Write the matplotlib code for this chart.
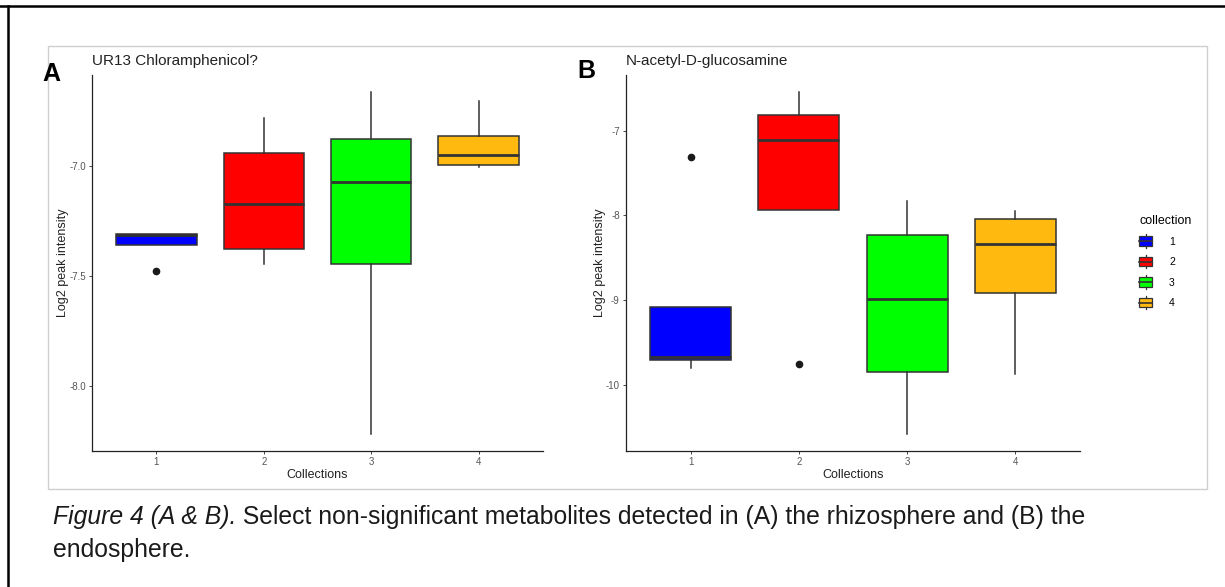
import matplotlib
matplotlib.use('Agg')
import matplotlib.pyplot as plt
from matplotlib.patches import Rectangle, Patch
from matplotlib.lines import Line2D
from matplotlib.legend_handler import HandlerBase

plt.rcParams['font.family'] = ['Liberation Sans', 'DejaVu Sans']
plt.rcParams['axes.unicode_minus'] = False

collections = [1, 2, 3, 4]
fill_colors = ['#0000FF', '#FF0000', '#00FF00', '#FFB90F']

# panel A: UR13 Chloramphenicol? (rhizosphere)
a_whislo = [-7.359, -7.448, -8.218, -7.006]
a_q1 = [-7.359, -7.379, -7.447, -6.995]
a_med = [-7.313, -7.174, -7.073, -6.953]
a_q3 = [-7.309, -6.942, -6.880, -6.865]
a_whishi = [-7.309, -6.785, -6.664, -6.706]
a_fliers = [[-7.477], [], [], []]

# panel B: N-acetyl-D-glucosamine (endosphere)
b_whislo = [-9.796, -7.936, -10.574, -9.875]
b_q1 = [-9.706, -7.936, -9.843, -8.919]
b_med = [-9.674, -7.114, -8.986, -8.341]
b_q3 = [-9.084, -6.811, -8.235, -8.046]
b_whishi = [-9.084, -6.540, -7.830, -7.944]
b_fliers = [[-7.311], [-9.757], [], []]

EDGE = '#333333'


class BoxKeyHandler(HandlerBase):
    # small ggplot-style boxplot glyph for the legend keys
    def create_artists(self, legend, orig_handle, xdescent, ydescent,
                       width, height, fontsize, trans):
        x0, y0 = -xdescent, -ydescent
        cx = x0 + width / 2
        rect = Rectangle((x0, y0 + height * 0.15), width, height * 0.7,
                         facecolor=orig_handle.get_facecolor(), edgecolor=EDGE,
                         lw=0.9, transform=trans)
        med = Line2D([x0, x0 + width], [y0 + height / 2] * 2, color=EDGE, lw=1.2, transform=trans)
        top = Line2D([cx, cx], [y0 + height * 0.85, y0 + height], color=EDGE, lw=0.9, transform=trans)
        bot = Line2D([cx, cx], [y0, y0 + height * 0.15], color=EDGE, lw=0.9, transform=trans)
        return [rect, med, top, bot]


def draw_panel(ax, whislo, q1, med, q3, whishi, fliers, title, ylim, yticks, fmt):
    stats = []
    for i, c in enumerate(collections):
        stats.append(dict(label=str(c), whislo=whislo[i], q1=q1[i], med=med[i],
                          q3=q3[i], whishi=whishi[i], fliers=fliers[i]))
    bp = ax.bxp(stats, positions=collections, widths=0.75, patch_artist=True,
                showcaps=False,
                boxprops=dict(edgecolor=EDGE, linewidth=1.1),
                whiskerprops=dict(color=EDGE, linewidth=1.1),
                medianprops=dict(color=EDGE, linewidth=2.0),
                flierprops=dict(marker='o', markerfacecolor='#1a1a1a',
                                markeredgecolor='#1a1a1a', markersize=4.5))
    for patch, col in zip(bp['boxes'], fill_colors):
        patch.set_facecolor(col)

    ax.set_xlim(0.4, 4.6)
    ax.set_ylim(*ylim)
    ax.set_yticks(yticks)
    ax.set_yticklabels([fmt.format(v) for v in yticks])
    ax.set_xticks(collections)
    ax.set_xticklabels([str(c) for c in collections])
    for s in ['top', 'right']:
        ax.spines[s].set_visible(False)
    for s in ['left', 'bottom']:
        ax.spines[s].set_color('#222222')
        ax.spines[s].set_linewidth(0.9)
    ax.tick_params(length=2.5, width=0.7, color='#444444', labelcolor='#555555',
                   labelsize=7, pad=2)
    ax.set_xlabel('Collections', fontsize=9, color='#222222', labelpad=1)
    ax.set_ylabel('Log2 peak intensity', fontsize=9, color='#222222', labelpad=0)
    ax.set_title(title, loc='left', fontsize=11, color='#222222', pad=7)


fig = plt.figure(figsize=(12.25, 5.87), dpi=100)
W, H = 1225, 587


def fx(px):
    return px / W


def fy(py):
    return 1 - py / H


# page border and image frame
fig.add_artist(Line2D([0, 1], [fy(6), fy(6)], color='black', lw=1.8, transform=fig.transFigure))
fig.add_artist(Line2D([fx(8), fx(8)], [0, fy(6)], color='black', lw=1.8, transform=fig.transFigure))
fig.add_artist(Rectangle((fx(48), fy(489)), fx(1207) - fx(48), fy(46) - fy(489),
                         fill=False, edgecolor='#cfcfcf', lw=1.0, transform=fig.transFigure))

ax_a = fig.add_axes([fx(92), fy(451), fx(543) - fx(92), fy(75) - fy(451)])
ax_b = fig.add_axes([fx(626), fy(451), fx(1080) - fx(626), fy(75) - fy(451)])

draw_panel(ax_a, a_whislo, a_q1, a_med, a_q3, a_whishi, a_fliers,
           'UR13 Chloramphenicol?', (-8.294, -6.589), [-8.0, -7.5, -7.0], '{:.1f}')
draw_panel(ax_b, b_whislo, b_q1, b_med, b_q3, b_whishi, b_fliers,
           'N-acetyl-D-glucosamine', (-10.779, -6.343), [-10, -9, -8, -7], '{:.0f}')

fig.text(fx(51), fy(74), 'A', fontsize=18, fontweight='bold', ha='center', va='center')
fig.text(fx(586), fy(71), 'B', fontsize=18, fontweight='bold', ha='center', va='center')

handles = [Patch(facecolor=c, edgecolor=EDGE) for c in fill_colors]
fig.legend(handles, [str(c) for c in collections], title='collection',
           loc='upper left', bbox_to_anchor=(fx(1130), fy(206)), frameon=False,
           fontsize=7.5, title_fontsize=9, handlelength=1.25, handleheight=1.6,
           handletextpad=1.6, labelspacing=0.68, alignment='left',
           handler_map={Patch: BoxKeyHandler()})

# caption: italic lead-in followed by regular text
t1 = fig.text(fx(53), fy(517), 'Figure 4 (A & B).', fontsize=17.8, style='italic',
              va='center', color='#1a1a1a')
fig.add_artist(plt.Annotation(' Select non-significant metabolites detected in (A) the rhizosphere and (B) the',
                              xy=(1, 0), xycoords=t1, va='bottom', ha='left', fontsize=17.8,
                              color='#1a1a1a', annotation_clip=False))
fig.text(fx(53), fy(550), 'endosphere.', fontsize=17.8, va='center', color='#1a1a1a')

fig.savefig('out.png', dpi=100)
